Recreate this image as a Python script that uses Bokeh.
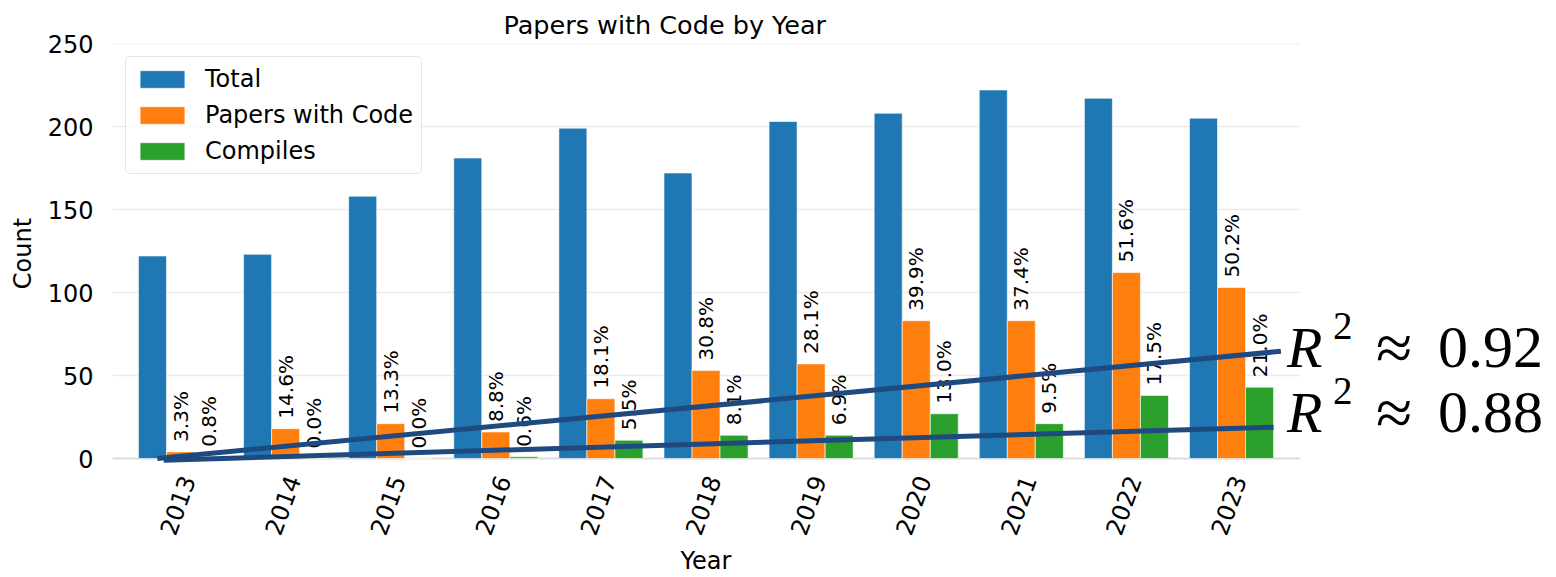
import math

from bokeh.core.properties import value
from bokeh.embed import file_html
from bokeh.models import ColumnDataSource, CustomJSTickFormatter, FixedTicker, Label, Title
from bokeh.plotting import figure
from bokeh.resources import INLINE

# ---- data -------------------------------------------------------------
years = [2013, 2014, 2015, 2016, 2017, 2018, 2019, 2020, 2021, 2022, 2023]
total = [122, 123, 158, 181, 199, 172, 203, 208, 222, 217, 205]
with_code = [4, 18, 21, 16, 36, 53, 57, 83, 83, 112, 103]
compiles = [1, 0, 0, 1, 11, 14, 14, 27, 21, 38, 43]

y_ticks = [0, 50, 100, 150, 200, 250]

# fitted trend lines (start / end) and their R^2
code_trend_x = [2012.78, 2023.47]
code_trend_y = [0.0, 64.6]
code_r2 = 0.92
compile_trend_x = [2012.84, 2023.40]
compile_trend_y = [-1.0, 18.9]
compile_r2 = 0.88

# ---- styling ------------------------------------------------------------
BLUE, ORANGE, GREEN = "#1f77b4", "#ff7f0e", "#2ca02c"
NAVY = "#1f4a80"
FONT = "DejaVu Sans"
SERIF = "Liberation Serif"
BAR_W = 0.8 / 3
X_START, X_END = 2012.353, 2026.092   # plot area, with room on the right for the R^2 notes
GRID_END = 2023.656                   # horizontal grid stops here
TICK_SHIFT = 0.07                     # nudges the slanted year labels under their groups

pct_code = [f"{100 * c / t:.1f}%" for c, t in zip(with_code, total)]
pct_comp = [f"{100 * c / t:.1f}%" for c, t in zip(compiles, total)]

src = ColumnDataSource(dict(
    x_total=[y - BAR_W for y in years],
    x_code=years,
    x_comp=[y + BAR_W for y in years],
    total=total,
    with_code=with_code,
    compiles=compiles,
    pct_code=pct_code,
    pct_comp=pct_comp,
))

p = figure(
    width=1556, height=577,
    x_range=(X_START, X_END), y_range=(-3, 250),
    output_backend="svg", toolbar_location=None,
    min_border_left=112, min_border_right=0,
    min_border_top=43, min_border_bottom=114,
    title="Papers with Code by Year",
)
p.outline_line_color = None
p.background_fill_color = "white"

p.title.text_font = FONT
p.title.text_font_size = "25.5px"
p.title.text_font_style = "normal"
p.title.text_color = "black"
p.title.align = "left"
p.title.offset = 391
p.title.standoff = 8

# horizontal grid, limited to the bar area
p.xgrid.visible = False
p.ygrid.visible = False
p.segment(x0=[X_START] * (len(y_ticks) - 1), x1=[GRID_END] * (len(y_ticks) - 1),
          y0=y_ticks[1:], y1=y_ticks[1:], line_color="#ebebeb", line_width=1.5)
p.segment(x0=[X_START], x1=[GRID_END], y0=[y_ticks[0]], y1=[y_ticks[0]],
          line_color="#dcdcdc", line_width=2)

# axes
for ax in (p.xaxis[0], p.yaxis[0]):
    ax.axis_line_color = None
    ax.major_tick_line_color = None
    ax.minor_tick_line_color = None
    ax.major_tick_in = 0
    ax.major_tick_out = 0
    ax.minor_tick_out = 0
    ax.major_label_text_font = FONT
    ax.major_label_text_font_size = "24px"
    ax.major_label_text_color = "black"
    ax.axis_label_text_font = FONT
    ax.axis_label_text_font_size = "24px"
    ax.axis_label_text_font_style = "normal"
    ax.axis_label_text_color = "black"

p.yaxis.ticker = FixedTicker(ticks=y_ticks)
p.yaxis.axis_label = "Count"
p.yaxis.major_label_standoff = 19
p.yaxis.axis_label_standoff = 8

p.xaxis.ticker = FixedTicker(ticks=[y + TICK_SHIFT for y in years])
p.xaxis.formatter = CustomJSTickFormatter(code="return Math.round(tick).toString()")
p.xaxis.major_label_orientation = math.radians(70)
p.xaxis.major_label_standoff = 13

p.add_layout(Title(text="Year", align="left", offset=568, standoff=3,
                   text_font=FONT, text_font_size="24px", text_font_style="normal",
                   text_color="black"), "below")

# bars
bar_kw = dict(width=BAR_W, source=src, line_color="white", line_alpha=0.6, line_width=1)
p.vbar(x="x_total", top="total", fill_color=BLUE, legend_label="Total", **bar_kw)
p.vbar(x="x_code", top="with_code", fill_color=ORANGE, legend_label="Papers with Code", **bar_kw)
p.vbar(x="x_comp", top="compiles", fill_color=GREEN, legend_label="Compiles", **bar_kw)

# percentage labels above bars
txt_kw = dict(source=src, angle=math.pi / 2, text_align="left", text_baseline="middle",
              text_font=value(FONT), text_font_size="20px", text_color="black", y_offset=-10)
p.text(x="x_code", y="with_code", text="pct_code", **txt_kw)
p.text(x="x_comp", y="compiles", text="pct_comp", **txt_kw)

# trend lines
p.line(code_trend_x, code_trend_y, line_color=NAVY, line_width=5)
p.line(compile_trend_x, compile_trend_y, line_color=NAVY, line_width=5)

# R^2 notes to the right of the trend lines
for ty, r2, dy in ((code_trend_y[-1], code_r2, 4), (compile_trend_y[-1], compile_r2, 15)):
    ax_x = code_trend_x[-1]
    p.add_layout(Label(x=ax_x, y=ty, x_offset=6, y_offset=dy, text="R",
                       text_font=SERIF, text_font_style="italic", text_font_size="58px",
                       text_baseline="alphabetic", text_color="black"))
    p.add_layout(Label(x=ax_x, y=ty, x_offset=52, y_offset=dy + 21, text="2",
                       text_font=SERIF, text_font_size="39px",
                       text_baseline="alphabetic", text_color="black"))
    p.add_layout(Label(x=ax_x, y=ty, x_offset=95, y_offset=dy, text="\u2248",
                       text_font=SERIF, text_font_size="66px",
                       text_baseline="alphabetic", text_color="black"))
    p.add_layout(Label(x=ax_x, y=ty, x_offset=157, y_offset=dy, text=f"{r2:.2f}",
                       text_font=SERIF, text_font_size="60px",
                       text_baseline="alphabetic", text_color="black"))

# legend
lg = p.legend[0]
lg.location = "top_left"
lg.margin = 13
lg.padding = 8
lg.spacing = 8
lg.glyph_width = 56
lg.glyph_height = 22
lg.label_standoff = 15
lg.label_text_font = FONT
lg.label_text_font_size = "24px"
lg.label_text_color = "black"
lg.border_line_color = "#cccccc"
lg.border_line_width = 1.5
lg.background_fill_alpha = 0.8
if "border_radius" in lg.properties():
    lg.border_radius = 5

open("out.html", "w").write(file_html(p, INLINE))
